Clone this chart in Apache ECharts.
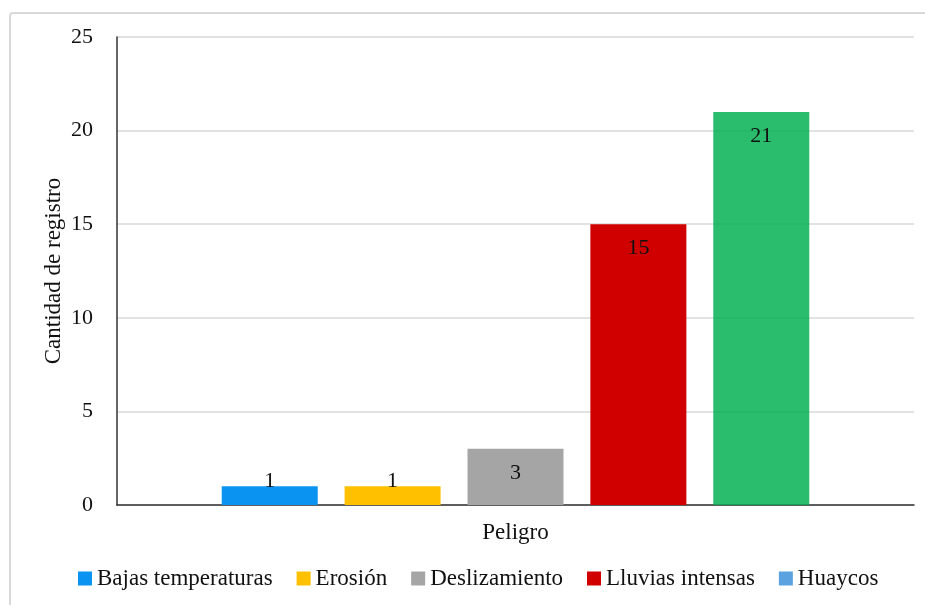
<!DOCTYPE html>
<html>
<head>
<meta charset="utf-8">
<script src="https://cdn.jsdelivr.net/npm/echarts@6/dist/echarts.min.js"></script>
<style>
html,body{margin:0;padding:0;background:#fff;}
#chart{width:925px;height:605px;}
</style>
</head>
<body>
<div id="chart"></div>
<script>
const categories = ['Peligro'];
const seriesNames = ['Bajas temperaturas', 'Erosión', 'Deslizamiento', 'Lluvias intensas', 'Huaycos'];
const values = [1, 1, 3, 15, 21];
const yTicks = [0, 5, 10, 15, 20, 25];

const seriesColors = ['#0A93F0', '#FFC000', '#A5A5A5', '#D00000', '#5BA3E0'];
const barFill = ['#0A93F0', '#FFC000', '#A5A5A5', '#D00000', 'rgba(0,176,80,0.83)'];

const FONT = '"Liberation Serif", "Times New Roman", serif';

const chart = echarts.init(document.getElementById('chart'), null, {renderer: 'canvas'});

const series = seriesNames.map((name, i) => ({
  name: name,
  type: 'bar',
  barWidth: 96,
  barGap: '28%',
  itemStyle: {color: seriesColors[i]},
  data: [{
    value: values[i],
    itemStyle: {color: barFill[i]},
    label: {
      show: true,
      position: values[i] < 2 ? 'insideBottom' : 'insideTop',
      distance: 13,
      color: '#111',
      fontFamily: FONT,
      fontSize: 22
    }
  }]
}));

chart.setOption({
  animation: false,
  backgroundColor: '#fff',
  graphic: [{
    type: 'rect',
    shape: {x: 10, y: 13, width: 940, height: 620, r: 3},
    style: {fill: 'none', stroke: '#d9d9d9', lineWidth: 2},
    silent: true,
    z: -10
  }],
  grid: {left: 117, right: 11, top: 37, bottom: 100, containLabel: false},
  legend: {
    data: seriesNames,
    left: 78,
    top: 567,
    padding: 0,
    itemWidth: 14,
    itemHeight: 14,
    itemGap: 24,
    icon: 'rect',
    textStyle: {fontFamily: FONT, fontSize: 23, color: '#111'}
  },
  xAxis: {
    type: 'category',
    data: categories,
    name: 'Peligro',
    nameLocation: 'middle',
    nameGap: 16,
    nameMoveOverlap: false,
    nameTextStyle: {fontFamily: FONT, fontSize: 23, color: '#111'},
    axisLine: {lineStyle: {color: '#333', width: 1.5}},
    axisTick: {show: false},
    axisLabel: {show: false},
    splitLine: {show: false}
  },
  yAxis: {
    type: 'value',
    min: yTicks[0],
    max: yTicks[yTicks.length - 1],
    interval: yTicks[1] - yTicks[0],
    name: 'Cantidad de registro',
    nameLocation: 'middle',
    nameGap: 52,
    nameMoveOverlap: false,
    nameTextStyle: {fontFamily: FONT, fontSize: 23, color: '#111'},
    axisLine: {show: true, lineStyle: {color: '#333', width: 1.5}},
    axisTick: {show: false},
    axisLabel: {margin: 24, fontFamily: FONT, fontSize: 22, color: '#111'},
    splitLine: {lineStyle: {color: '#d9d9d9', width: 1.5}}
  },
  series: series
});
</script>
</body>
</html>
